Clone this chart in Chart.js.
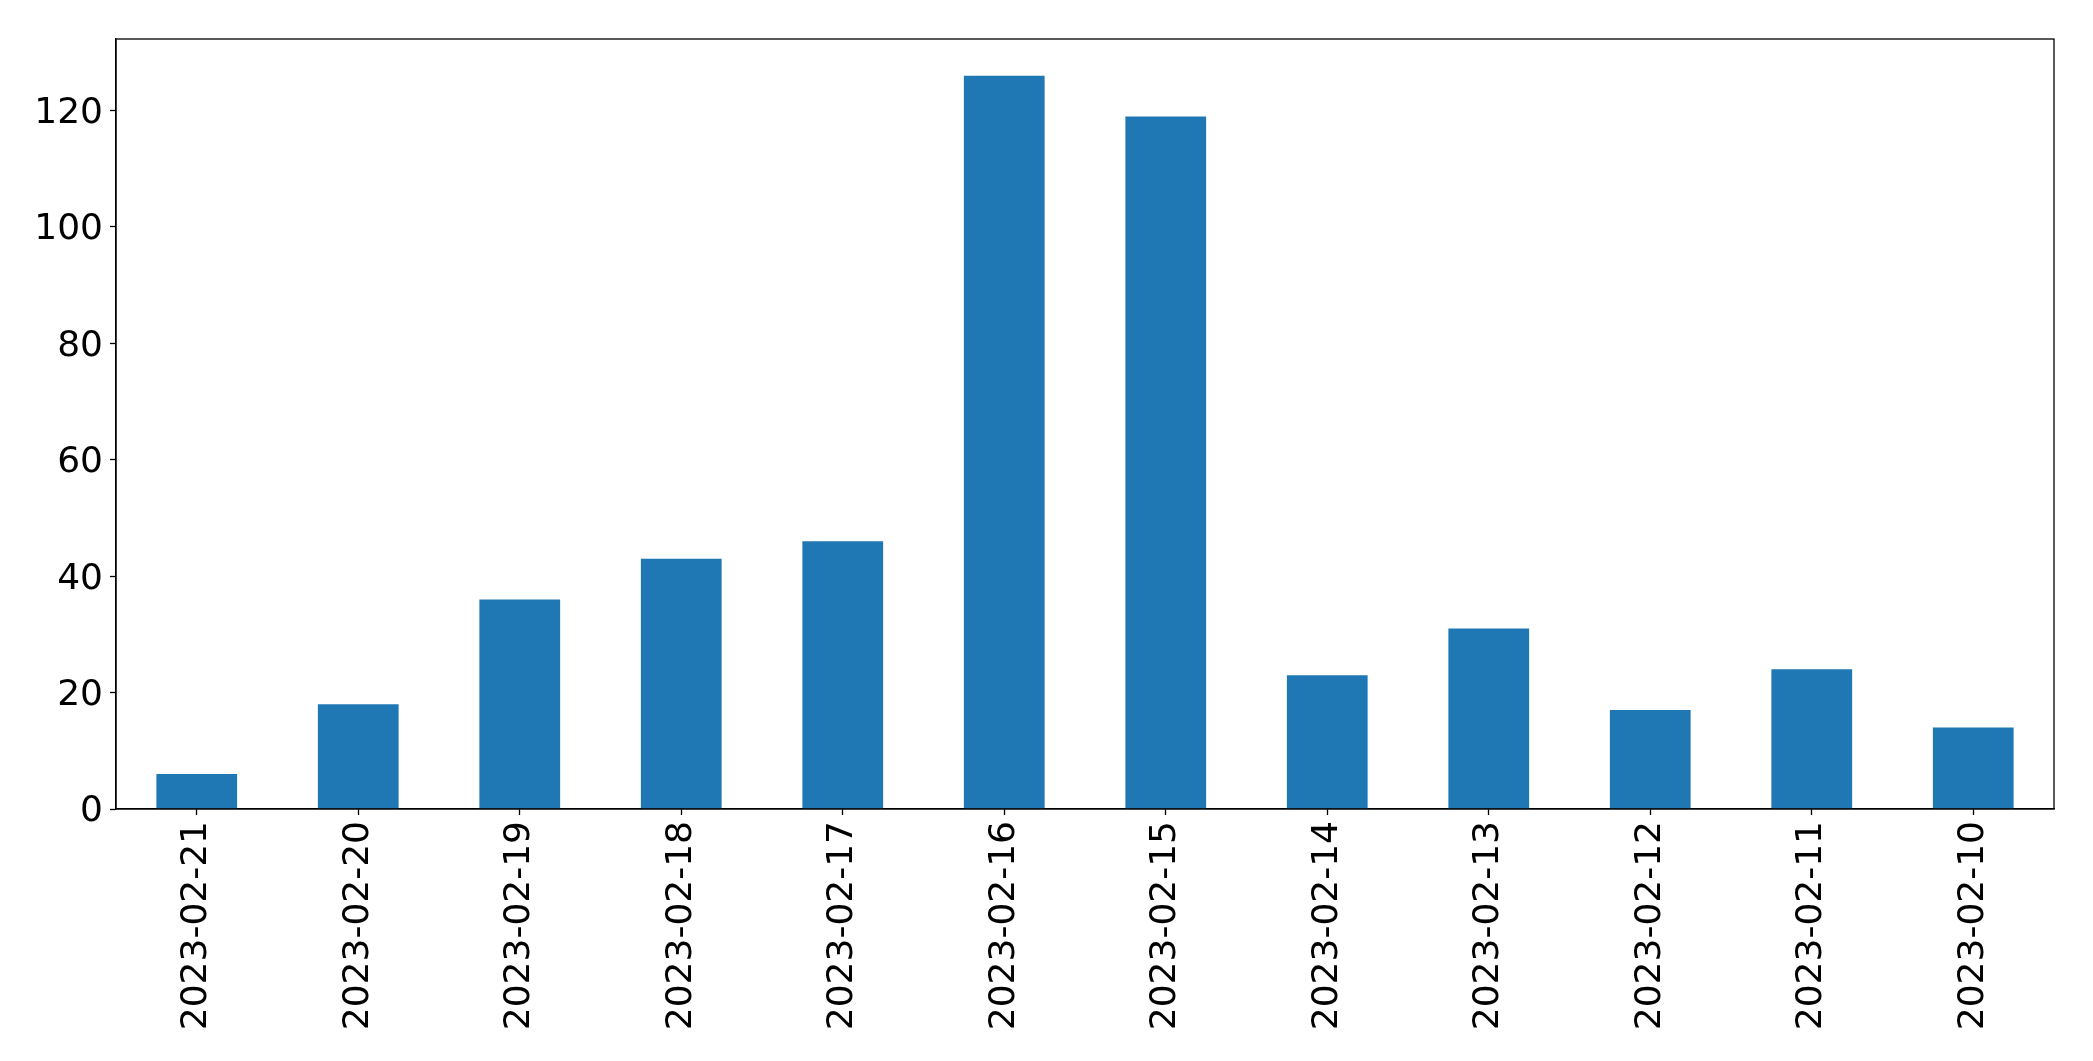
<!DOCTYPE html>
<html>
<head>
<meta charset="utf-8">
<script src="https://cdn.jsdelivr.net/npm/chart.js@4"></script>
<style>
  html, body { margin: 0; padding: 0; background: #fff; }
  #wrap { width: 2093px; height: 1061px; }
</style>
</head>
<body>
<div id="wrap"><canvas id="myChart" width="2093" height="1061"></canvas></div>
<script>
// values
const dates = ['2023-02-21', '2023-02-20', '2023-02-19', '2023-02-18', '2023-02-17', '2023-02-16',
               '2023-02-15', '2023-02-14', '2023-02-13', '2023-02-12', '2023-02-11', '2023-02-10'];
const counts = [6, 18, 36, 43, 46, 126, 119, 23, 31, 17, 24, 14];
const yTicks = [0, 20, 40, 60, 80, 100, 120];

const yMax = Math.max(...counts) * 1.05;

// draws the top and right spines so the plot gets a full box
const frame = {
  id: 'frame',
  afterDraw(chart) {
    const { ctx, chartArea: a } = chart;
    ctx.save();
    ctx.strokeStyle = '#000';
    ctx.lineWidth = 1.3;
    ctx.strokeRect(a.left, a.top, a.right - a.left, a.bottom - a.top);
    ctx.restore();
  }
};

const ctx = document.getElementById('myChart').getContext('2d');
new Chart(ctx, {
  type: 'bar',
  data: {
    labels: dates,
    datasets: [{
      data: counts,
      backgroundColor: '#1f77b4',
      borderWidth: 0,
      categoryPercentage: 1,
      barPercentage: 0.5
    }]
  },
  options: {
    responsive: false,
    animation: false,
    layout: { padding: { top: 39, right: 39, left: 0, bottom: 0 } },
    plugins: { legend: { display: false }, tooltip: { enabled: false } },
    scales: {
      x: {
        grid: { offset: false, drawOnChartArea: false, tickLength: 6, tickColor: '#000', tickWidth: 1.3 },
        border: { color: '#000', width: 1.3 },
        ticks: {
          color: '#000',
          font: { family: 'DejaVu Sans', size: 36 },
          minRotation: 90,
          maxRotation: 90,
          padding: 6,
          autoSkip: false
        },
        afterFit(scale) { scale.height = 252; }
      },
      y: {
        min: 0,
        max: yMax,
        grid: { drawOnChartArea: false, tickLength: 6, tickColor: '#000', tickWidth: 1.3 },
        border: { color: '#000', width: 1.3 },
        ticks: {
          stepSize: 20,
          color: '#000',
          font: { family: 'DejaVu Sans', size: 36 },
          padding: 7,
          labelOffset: 3
        },
        afterBuildTicks(scale) {
          scale.ticks = yTicks.map(v => ({ value: v }));
        },
        afterFit(scale) { scale.width = 116; }
      }
    }
  },
  plugins: [frame]
});
</script>
</body>
</html>
